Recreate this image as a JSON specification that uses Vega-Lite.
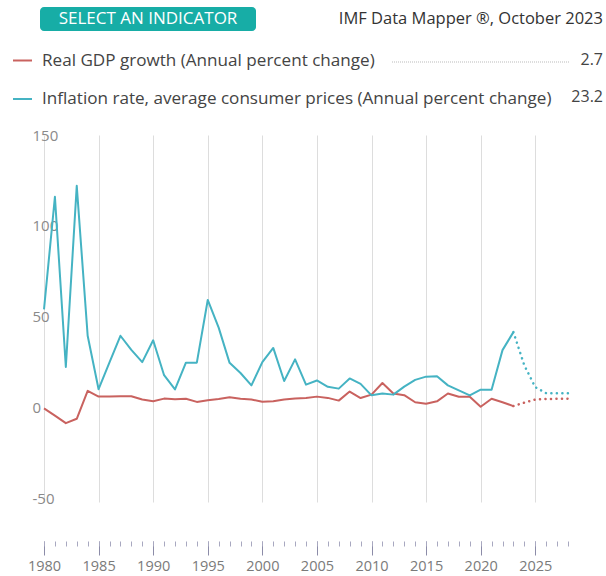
{
  "$schema": "https://vega.github.io/schema/vega-lite/v6.json",
  "width": 524,
  "height": 367,
  "autosize": {"type": "none"},
  "padding": {"left": 44, "top": 135, "right": 38, "bottom": 74},
  "background": "white",
  "config": {"view": {"stroke": null}, "font": "Open Sans"},
  "title": {
    "text": "IMF Data Mapper ®, October 2023",
    "anchor": "end",
    "frame": "group",
    "fontSize": 16.5,
    "fontWeight": "normal",
    "color": "#333333",
    "font": "Open Sans",
    "offset": -20,
    "dx": 35
  },
  "datasets": {
    "series": [
      {"year": 1980, "series": "Real GDP growth (Annual percent change)", "value": -0.5, "kind": "Actual"},
      {"year": 1981, "series": "Real GDP growth (Annual percent change)", "value": -4.5, "kind": "Actual"},
      {"year": 1982, "series": "Real GDP growth (Annual percent change)", "value": -8.6, "kind": "Actual"},
      {"year": 1983, "series": "Real GDP growth (Annual percent change)", "value": -6.2, "kind": "Actual"},
      {"year": 1984, "series": "Real GDP growth (Annual percent change)", "value": 9.2, "kind": "Actual"},
      {"year": 1985, "series": "Real GDP growth (Annual percent change)", "value": 6.0, "kind": "Actual"},
      {"year": 1986, "series": "Real GDP growth (Annual percent change)", "value": 6.0, "kind": "Actual"},
      {"year": 1987, "series": "Real GDP growth (Annual percent change)", "value": 6.2, "kind": "Actual"},
      {"year": 1988, "series": "Real GDP growth (Annual percent change)", "value": 6.2, "kind": "Actual"},
      {"year": 1989, "series": "Real GDP growth (Annual percent change)", "value": 4.4, "kind": "Actual"},
      {"year": 1990, "series": "Real GDP growth (Annual percent change)", "value": 3.5, "kind": "Actual"},
      {"year": 1991, "series": "Real GDP growth (Annual percent change)", "value": 4.9, "kind": "Actual"},
      {"year": 1992, "series": "Real GDP growth (Annual percent change)", "value": 4.6, "kind": "Actual"},
      {"year": 1993, "series": "Real GDP growth (Annual percent change)", "value": 4.8, "kind": "Actual"},
      {"year": 1994, "series": "Real GDP growth (Annual percent change)", "value": 3.1, "kind": "Actual"},
      {"year": 1995, "series": "Real GDP growth (Annual percent change)", "value": 4.0, "kind": "Actual"},
      {"year": 1996, "series": "Real GDP growth (Annual percent change)", "value": 4.7, "kind": "Actual"},
      {"year": 1997, "series": "Real GDP growth (Annual percent change)", "value": 5.6, "kind": "Actual"},
      {"year": 1998, "series": "Real GDP growth (Annual percent change)", "value": 4.8, "kind": "Actual"},
      {"year": 1999, "series": "Real GDP growth (Annual percent change)", "value": 4.4, "kind": "Actual"},
      {"year": 2000, "series": "Real GDP growth (Annual percent change)", "value": 3.2, "kind": "Actual"},
      {"year": 2001, "series": "Real GDP growth (Annual percent change)", "value": 3.4, "kind": "Actual"},
      {"year": 2002, "series": "Real GDP growth (Annual percent change)", "value": 4.4, "kind": "Actual"},
      {"year": 2003, "series": "Real GDP growth (Annual percent change)", "value": 5.0, "kind": "Actual"},
      {"year": 2004, "series": "Real GDP growth (Annual percent change)", "value": 5.3, "kind": "Actual"},
      {"year": 2005, "series": "Real GDP growth (Annual percent change)", "value": 6.0, "kind": "Actual"},
      {"year": 2006, "series": "Real GDP growth (Annual percent change)", "value": 5.3, "kind": "Actual"},
      {"year": 2007, "series": "Real GDP growth (Annual percent change)", "value": 3.8, "kind": "Actual"},
      {"year": 2008, "series": "Real GDP growth (Annual percent change)", "value": 8.8, "kind": "Actual"},
      {"year": 2009, "series": "Real GDP growth (Annual percent change)", "value": 5.2, "kind": "Actual"},
      {"year": 2010, "series": "Real GDP growth (Annual percent change)", "value": 7.1, "kind": "Actual"},
      {"year": 2011, "series": "Real GDP growth (Annual percent change)", "value": 13.5, "kind": "Actual"},
      {"year": 2012, "series": "Real GDP growth (Annual percent change)", "value": 7.7, "kind": "Actual"},
      {"year": 2013, "series": "Real GDP growth (Annual percent change)", "value": 6.8, "kind": "Actual"},
      {"year": 2014, "series": "Real GDP growth (Annual percent change)", "value": 2.9, "kind": "Actual"},
      {"year": 2015, "series": "Real GDP growth (Annual percent change)", "value": 2.1, "kind": "Actual"},
      {"year": 2016, "series": "Real GDP growth (Annual percent change)", "value": 3.4, "kind": "Actual"},
      {"year": 2017, "series": "Real GDP growth (Annual percent change)", "value": 7.7, "kind": "Actual"},
      {"year": 2018, "series": "Real GDP growth (Annual percent change)", "value": 5.9, "kind": "Actual"},
      {"year": 2019, "series": "Real GDP growth (Annual percent change)", "value": 5.9, "kind": "Actual"},
      {"year": 2020, "series": "Real GDP growth (Annual percent change)", "value": 0.4, "kind": "Actual"},
      {"year": 2021, "series": "Real GDP growth (Annual percent change)", "value": 4.8, "kind": "Actual"},
      {"year": 2022, "series": "Real GDP growth (Annual percent change)", "value": 2.9, "kind": "Actual"},
      {"year": 2023, "series": "Real GDP growth (Annual percent change)", "value": 0.8, "kind": "Actual"},
      {"year": 2023, "series": "Real GDP growth (Annual percent change)", "value": 0.8, "kind": "Projection"},
      {"year": 2024, "series": "Real GDP growth (Annual percent change)", "value": 2.7, "kind": "Projection"},
      {"year": 2025, "series": "Real GDP growth (Annual percent change)", "value": 4.4, "kind": "Projection"},
      {"year": 2026, "series": "Real GDP growth (Annual percent change)", "value": 4.7, "kind": "Projection"},
      {"year": 2027, "series": "Real GDP growth (Annual percent change)", "value": 4.8, "kind": "Projection"},
      {"year": 2028, "series": "Real GDP growth (Annual percent change)", "value": 4.9, "kind": "Projection"},
      {"year": 1980, "series": "Inflation rate, average consumer prices (Annual percent change)", "value": 54, "kind": "Actual"},
      {"year": 1981, "series": "Inflation rate, average consumer prices (Annual percent change)", "value": 116, "kind": "Actual"},
      {"year": 1982, "series": "Inflation rate, average consumer prices (Annual percent change)", "value": 22.3, "kind": "Actual"},
      {"year": 1983, "series": "Inflation rate, average consumer prices (Annual percent change)", "value": 122, "kind": "Actual"},
      {"year": 1984, "series": "Inflation rate, average consumer prices (Annual percent change)", "value": 39.5, "kind": "Actual"},
      {"year": 1985, "series": "Inflation rate, average consumer prices (Annual percent change)", "value": 10.1, "kind": "Actual"},
      {"year": 1986, "series": "Inflation rate, average consumer prices (Annual percent change)", "value": 24.8, "kind": "Actual"},
      {"year": 1987, "series": "Inflation rate, average consumer prices (Annual percent change)", "value": 39.5, "kind": "Actual"},
      {"year": 1988, "series": "Inflation rate, average consumer prices (Annual percent change)", "value": 31.7, "kind": "Actual"},
      {"year": 1989, "series": "Inflation rate, average consumer prices (Annual percent change)", "value": 25.0, "kind": "Actual"},
      {"year": 1990, "series": "Inflation rate, average consumer prices (Annual percent change)", "value": 37.0, "kind": "Actual"},
      {"year": 1991, "series": "Inflation rate, average consumer prices (Annual percent change)", "value": 17.8, "kind": "Actual"},
      {"year": 1992, "series": "Inflation rate, average consumer prices (Annual percent change)", "value": 10.0, "kind": "Actual"},
      {"year": 1993, "series": "Inflation rate, average consumer prices (Annual percent change)", "value": 24.7, "kind": "Actual"},
      {"year": 1994, "series": "Inflation rate, average consumer prices (Annual percent change)", "value": 24.7, "kind": "Actual"},
      {"year": 1995, "series": "Inflation rate, average consumer prices (Annual percent change)", "value": 59.2, "kind": "Actual"},
      {"year": 1996, "series": "Inflation rate, average consumer prices (Annual percent change)", "value": 44.0, "kind": "Actual"},
      {"year": 1997, "series": "Inflation rate, average consumer prices (Annual percent change)", "value": 24.6, "kind": "Actual"},
      {"year": 1998, "series": "Inflation rate, average consumer prices (Annual percent change)", "value": 19.0, "kind": "Actual"},
      {"year": 1999, "series": "Inflation rate, average consumer prices (Annual percent change)", "value": 12.2, "kind": "Actual"},
      {"year": 2000, "series": "Inflation rate, average consumer prices (Annual percent change)", "value": 25.0, "kind": "Actual"},
      {"year": 2001, "series": "Inflation rate, average consumer prices (Annual percent change)", "value": 32.8, "kind": "Actual"},
      {"year": 2002, "series": "Inflation rate, average consumer prices (Annual percent change)", "value": 14.6, "kind": "Actual"},
      {"year": 2003, "series": "Inflation rate, average consumer prices (Annual percent change)", "value": 26.5, "kind": "Actual"},
      {"year": 2004, "series": "Inflation rate, average consumer prices (Annual percent change)", "value": 12.6, "kind": "Actual"},
      {"year": 2005, "series": "Inflation rate, average consumer prices (Annual percent change)", "value": 14.9, "kind": "Actual"},
      {"year": 2006, "series": "Inflation rate, average consumer prices (Annual percent change)", "value": 11.4, "kind": "Actual"},
      {"year": 2007, "series": "Inflation rate, average consumer prices (Annual percent change)", "value": 10.4, "kind": "Actual"},
      {"year": 2008, "series": "Inflation rate, average consumer prices (Annual percent change)", "value": 16.0, "kind": "Actual"},
      {"year": 2009, "series": "Inflation rate, average consumer prices (Annual percent change)", "value": 13.0, "kind": "Actual"},
      {"year": 2010, "series": "Inflation rate, average consumer prices (Annual percent change)", "value": 6.7, "kind": "Actual"},
      {"year": 2011, "series": "Inflation rate, average consumer prices (Annual percent change)", "value": 7.7, "kind": "Actual"},
      {"year": 2012, "series": "Inflation rate, average consumer prices (Annual percent change)", "value": 7.1, "kind": "Actual"},
      {"year": 2013, "series": "Inflation rate, average consumer prices (Annual percent change)", "value": 11.5, "kind": "Actual"},
      {"year": 2014, "series": "Inflation rate, average consumer prices (Annual percent change)", "value": 15.2, "kind": "Actual"},
      {"year": 2015, "series": "Inflation rate, average consumer prices (Annual percent change)", "value": 17.0, "kind": "Actual"},
      {"year": 2016, "series": "Inflation rate, average consumer prices (Annual percent change)", "value": 17.2, "kind": "Actual"},
      {"year": 2017, "series": "Inflation rate, average consumer prices (Annual percent change)", "value": 12.2, "kind": "Actual"},
      {"year": 2018, "series": "Inflation rate, average consumer prices (Annual percent change)", "value": 9.4, "kind": "Actual"},
      {"year": 2019, "series": "Inflation rate, average consumer prices (Annual percent change)", "value": 6.7, "kind": "Actual"},
      {"year": 2020, "series": "Inflation rate, average consumer prices (Annual percent change)", "value": 9.8, "kind": "Actual"},
      {"year": 2021, "series": "Inflation rate, average consumer prices (Annual percent change)", "value": 9.8, "kind": "Actual"},
      {"year": 2022, "series": "Inflation rate, average consumer prices (Annual percent change)", "value": 31.6, "kind": "Actual"},
      {"year": 2023, "series": "Inflation rate, average consumer prices (Annual percent change)", "value": 41.5, "kind": "Actual"},
      {"year": 2023, "series": "Inflation rate, average consumer prices (Annual percent change)", "value": 41.5, "kind": "Projection"},
      {"year": 2024, "series": "Inflation rate, average consumer prices (Annual percent change)", "value": 23.2, "kind": "Projection"},
      {"year": 2025, "series": "Inflation rate, average consumer prices (Annual percent change)", "value": 11.2, "kind": "Projection"},
      {"year": 2026, "series": "Inflation rate, average consumer prices (Annual percent change)", "value": 7.9, "kind": "Projection"},
      {"year": 2027, "series": "Inflation rate, average consumer prices (Annual percent change)", "value": 7.9, "kind": "Projection"},
      {"year": 2028, "series": "Inflation rate, average consumer prices (Annual percent change)", "value": 7.9, "kind": "Projection"}
    ]
  },
  "layer": [
    {
      "data": {"values": [{"label": "SELECT AN INDICATOR"}]},
      "mark": {"type": "rect", "fill": "#17ada6", "cornerRadius": 4},
      "encoding": {"x": {"value": -4}, "x2": {"value": 212}, "y": {"value": -128}, "y2": {"value": -104}}
    },
    {
      "data": {"values": [{"label": "SELECT AN INDICATOR"}]},
      "mark": {"type": "text", "color": "white", "fontSize": 17, "font": "Open Sans", "align": "center", "baseline": "middle"},
      "encoding": {"text": {"field": "label"}, "x": {"value": 104}, "y": {"value": -116}}
    },
    {
      "data": {"values": [{"label": "leader"}]},
      "mark": {"type": "rule", "color": "#bbbbbb", "strokeWidth": 1, "strokeDash": [1, 1]},
      "encoding": {"x": {"value": 348}, "x2": {"value": 526}, "y": {"value": -73}}
    },
    {
      "data": {"values": [{"latest": "2.7"}]},
      "mark": {"type": "text", "color": "#444444", "fontSize": 16, "font": "Open Sans", "align": "right", "baseline": "middle"},
      "encoding": {"text": {"field": "latest"}, "x": {"value": 559}, "y": {"value": -75}}
    },
    {
      "data": {"values": [{"latest": "23.2"}]},
      "mark": {"type": "text", "color": "#444444", "fontSize": 16, "font": "Open Sans", "align": "right", "baseline": "middle"},
      "encoding": {"text": {"field": "latest"}, "x": {"value": 559}, "y": {"value": -38}}
    },
    {
      "data": {"name": "series"},
      "transform": [{"filter": "datum.kind === 'Actual'"}],
      "mark": {"type": "line", "strokeWidth": 2, "strokeJoin": "round"},
      "encoding": {
        "x": {
          "field": "year", "type": "quantitative",
          "scale": {"domain": [1980, 2028], "nice": false, "zero": false},
          "axis": {
            "title": null, "orient": "bottom", "values": [1980, 1985, 1990, 1995, 2000, 2005, 2010, 2015, 2020, 2025],
            "format": "d", "offset": 39, "domain": false, "grid": true, "gridColor": "#dddddd", "gridWidth": 1,
            "tickSize": 14, "tickColor": "#8c8ca8", "tickWidth": 1,
            "labelFont": "Open Sans", "labelFontSize": 14.5, "labelColor": "#7a7a7a", "labelPadding": 4, "labelFlush": false
          }
        },
        "y": {
          "field": "value", "type": "quantitative",
          "scale": {"domain": [-52, 150], "nice": false, "zero": false},
          "axis": {
            "title": null, "values": [-50, 0, 50, 100, 150], "grid": false, "domain": false, "ticks": false, "tickSize": 0,
            "labelExpr": "'' + datum.value",
            "labelAlign": "left", "labelBaseline": "middle", "labelPadding": 12, "labelFlush": false,
            "labelFont": "Open Sans", "labelFontSize": 15, "labelColor": "#8a8a8a"
          }
        },
        "color": {
          "field": "series", "type": "nominal",
          "scale": {
            "domain": ["Real GDP growth (Annual percent change)", "Inflation rate, average consumer prices (Annual percent change)"],
            "range": ["#c9625f", "#45b3c3"]
          },
          "legend": {
            "orient": "none", "legendX": -32, "legendY": -85, "direction": "vertical", "title": null,
            "symbolType": "stroke", "symbolSize": 361, "symbolStrokeWidth": 2,
            "labelFont": "Open Sans", "labelFontSize": 17.1, "labelColor": "#444444", "labelOffset": 9,
            "rowPadding": 19.5, "labelLimit": 600
          }
        }
      }
    },
    {
      "data": {"name": "series"},
      "transform": [{"filter": "datum.kind === 'Projection'"}],
      "mark": {"type": "line", "strokeWidth": 2.5, "strokeCap": "round", "strokeDash": [0.1, 5.4]},
      "encoding": {
        "x": {
          "field": "year", "type": "quantitative",
          "axis": {
            "title": null, "orient": "bottom", "values": [1980, 1981, 1982, 1983, 1984, 1985, 1986, 1987, 1988, 1989, 1990, 1991, 1992, 1993, 1994, 1995, 1996, 1997, 1998, 1999, 2000, 2001, 2002, 2003, 2004, 2005, 2006, 2007, 2008, 2009, 2010, 2011, 2012, 2013, 2014, 2015, 2016, 2017, 2018, 2019, 2020, 2021, 2022, 2023, 2024, 2025, 2026, 2027, 2028],
            "offset": 39, "domain": false, "grid": false, "labels": false,
            "tickSize": 5, "tickColor": "#a8a8c0", "tickWidth": 1
          }
        },
        "y": {"field": "value", "type": "quantitative"},
        "color": {"field": "series", "type": "nominal"}
      }
    }
  ],
  "resolve": {"axis": {"x": "independent"}}
}
